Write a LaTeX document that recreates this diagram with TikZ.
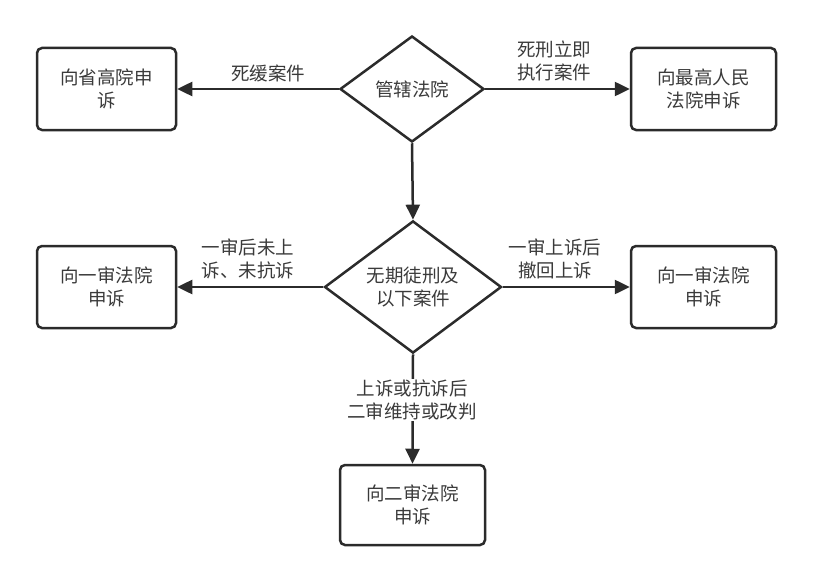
\documentclass[tikz,border=0pt]{standalone}
\usepackage{fontspec}
\setmainfont{Noto Sans CJK SC}
\usetikzlibrary{shapes.geometric,arrows.meta}
\definecolor{ln}{HTML}{2B2B2B}
\definecolor{tx}{HTML}{3A3A3A}
\begin{document}
\begin{tikzpicture}[x=1pt,y=-1pt,
  box/.style={draw=ln,line width=2.5pt,rounded corners=5pt,minimum width=139pt,minimum height=82pt,inner sep=0pt,align=center,text=tx,font=\fontsize{18.5}{22.5}\selectfont},
  dia/.style={draw=ln,line width=2.5pt,diamond,inner sep=0pt,align=center,text=tx,font=\fontsize{18.5}{22.5}\selectfont},
  lab/.style={align=center,text=tx,font=\fontsize{18.5}{23.5}\selectfont,inner sep=1pt},
  arr/.style={draw=ln,line width=2.5pt,-{Triangle[length=15pt,width=14pt]}}]
\useasboundingbox (0,0) rectangle (813,583);
\node[dia,minimum width=144pt,minimum height=106pt] (d1) at (412,89) {管辖法院};
\node[dia,minimum width=177pt,minimum height=107pt] (d2) at (413,287) {无期徒刑及\\以下案件};
\node[box] (b1) at (106.5,89) {向省高院申\\诉};
\node[box,minimum width=145pt] (b2) at (703.5,89) {向最高人民\\法院申诉};
\node[box] (b3) at (106.5,287) {向一审法院\\申诉};
\node[box,minimum width=145pt] (b4) at (703.5,287) {向一审法院\\申诉};
\node[box,minimum width=145pt,minimum height=80pt] (b5) at (412.5,505) {向二审法院\\申诉};
\draw[arr] (d1.west) -- (b1.east);
\draw[arr] (d1.east) -- (b2.west);
\draw[arr] (d1.south) -- (d2.north);
\draw[arr] (d2.west) -- (b3.east);
\draw[arr] (d2.east) -- (b4.west);
\draw[arr] (d2.south) -- (b5.north);
\node[lab] (l1) at (268,73) {死缓案件};
\node[lab] (l2) at (554,61) {死刑立即\\执行案件};
\node[lab] (l3) at (248,259) {一审后未上\\诉、未抗诉};
\node[lab] (l4) at (555,259) {一审上诉后\\撤回上诉};
\node[lab,fill=white] (l5) at (412,400) {上诉或抗诉后\\二审维持或改判};
\end{tikzpicture}
\end{document}
